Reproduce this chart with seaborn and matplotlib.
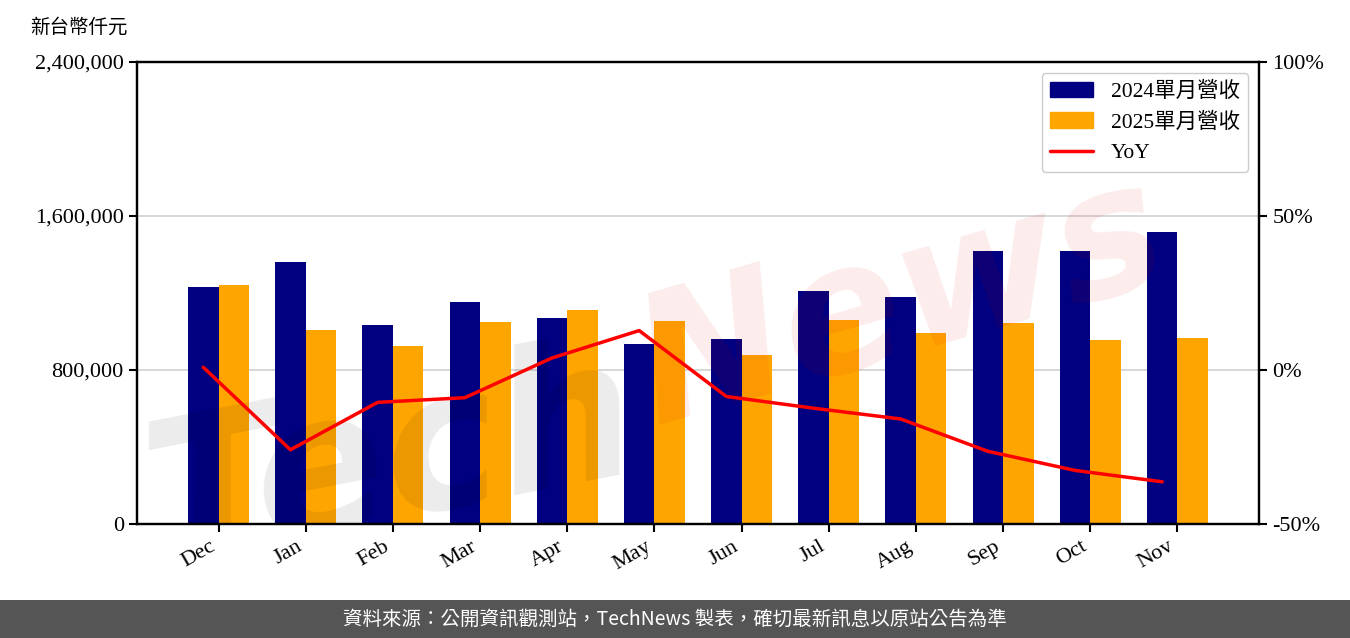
import numpy as np
import pandas as pd
import matplotlib
matplotlib.use("Agg")
import matplotlib.pyplot as plt
import seaborn as sns
from matplotlib.patches import Patch, Rectangle
from matplotlib.lines import Line2D
from matplotlib.ticker import FuncFormatter

# Data (NT$ thousand)
months = ["Dec", "Jan", "Feb", "Mar", "Apr", "May", "Jun", "Jul", "Aug", "Sep", "Oct", "Nov"]
rev_2024 = [1231000, 1361000, 1034000, 1153000, 1070000, 935000,
            961000, 1210000, 1179000, 1418000, 1418000, 1517000]
rev_2025 = [1242000, 1008000, 925000, 1049000, 1112000, 1055000,
            878000, 1060000, 992000, 1044000, 956000, 966000]
yoy = [0.009, -0.259, -0.105, -0.090, 0.039, 0.128,
       -0.086, -0.124, -0.159, -0.264, -0.326, -0.363]

label_2024 = "2024單月營收"
label_2025 = "2025單月營收"

sns.set_style("ticks", {"axes.edgecolor": "black", "xtick.color": "black",
                        "ytick.color": "black", "text.color": "black"})
plt.rcParams["font.family"] = ["Liberation Serif", "Noto Sans CJK TC", "DejaVu Sans"]
plt.rcParams["axes.linewidth"] = 1.6

df = pd.DataFrame({
    "month": months * 2,
    "series": [label_2024] * len(months) + [label_2025] * len(months),
    "value": rev_2024 + rev_2025,
})

fig = plt.figure(figsize=(13.5, 6.38), dpi=100)
ax = fig.add_axes([137 / 1350, 1 - 524 / 638, (1259 - 137) / 1350, (524 - 62) / 638])

sns.barplot(data=df, x="month", y="value", hue="series",
            hue_order=[label_2024, label_2025],
            palette=["#000080", "#FFA500"], width=0.7, saturation=1,
            linewidth=0, edgecolor="none",
            legend=False, ax=ax, zorder=2)

ax.set_ylim(0, 2400000)
ax.set_yticks([0, 800000, 1600000, 2400000])
ax.yaxis.set_major_formatter(FuncFormatter(lambda v, _: f"{v:,.0f}"))
ax.set_xlabel("")
ax.set_ylabel("")
ax.grid(axis="y", color="#d4d4d4", linewidth=1.3, zorder=0)
ax.set_axisbelow(True)
ax.tick_params(axis="both", labelsize=16, width=1.5, length=6)
plt.setp(ax.get_xticklabels(), rotation=30, ha="right", rotation_mode="default")

ax2 = ax.twinx()
pos = np.arange(len(months)) - 0.175
sns.lineplot(x=pos, y=yoy, ax=ax2, color="#FF0000", linewidth=2.5, zorder=3)
ax2.set_ylim(-0.5, 1.0)
ax2.set_yticks([-0.5, 0, 0.5, 1.0])
ax2.yaxis.set_major_formatter(FuncFormatter(lambda v, _: f"{v * 100:.0f}%"))
ax2.tick_params(axis="y", labelsize=16, width=1.5, length=6)
ax2.set_ylabel("")
ax.set_xlim(-0.935, 11.935)
ax2.set_xlim(-0.935, 11.935)

handles = [Patch(color="#000080", label=label_2024),
           Patch(color="#FFA500", label=label_2025),
           Line2D([0], [0], color="#FF0000", linewidth=2.5, label="YoY")]
ax2.legend(handles=handles, loc="upper right", fontsize=15.5, frameon=True,
           edgecolor="#cccccc", fancybox=True, framealpha=1)

fig.text(30 / 1350, 1 - 27 / 638, "新台幣仟元", fontsize=14, va="center", ha="left")

# faint watermark, clipped to the plot area
ax2.text(645 / 1350, 1 - 468 / 638, "Tech", fontsize=140, fontweight="bold",
         family="DejaVu Sans", color="#000000", alpha=0.08, rotation=11,
         rotation_mode="anchor", ha="right", va="baseline", style="italic",
         transform=fig.transFigure, clip_on=True, zorder=1)
ax2.text(655 / 1350, 1 - 425 / 638, "News", fontsize=128, fontweight="bold",
         family="DejaVu Sans", color="#dd0000", alpha=0.08, rotation=16,
         rotation_mode="anchor", ha="left", va="baseline", style="italic",
         transform=fig.transFigure, clip_on=True, zorder=1)

# footer bar
fig.patches.append(Rectangle((0, 0), 1, 38 / 638, transform=fig.transFigure,
                             facecolor="#555555", edgecolor="none", zorder=0))
fig.text(0.5, 19 / 638, "資料來源：公開資訊觀測站，TechNews 製表，確切最新訊息以原站公告為準",
         fontsize=14, color="white", ha="center", va="center",
         family=["Noto Sans CJK TC", "DejaVu Sans"])

fig.savefig("out.png", dpi=100)
